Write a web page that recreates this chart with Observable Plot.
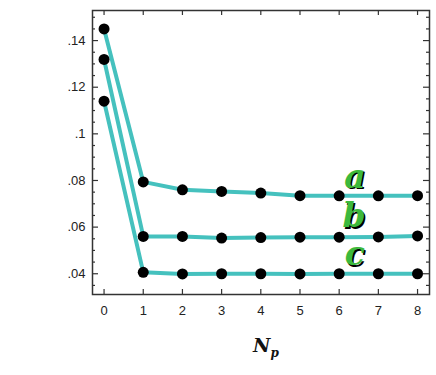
<!DOCTYPE html>
<html><head><meta charset="utf-8">
<script src="https://cdn.jsdelivr.net/npm/d3@7"></script>
<script src="https://cdn.jsdelivr.net/npm/@observablehq/plot@0.6"></script>
<style>body{margin:0;background:#fff}#chart svg{display:block}</style>
</head><body><div id="chart"></div>
<script>
// Data
const np = [0, 1, 2, 3, 4, 5, 6, 7, 8];
const seriesA = [0.1450, 0.0794, 0.0760, 0.0753, 0.0746, 0.0735, 0.0734, 0.0734, 0.0735];
const seriesB = [0.1319, 0.0560, 0.0560, 0.0553, 0.0555, 0.0557, 0.0557, 0.0558, 0.0562];
const seriesC = [0.1140, 0.0406, 0.0399, 0.0400, 0.0400, 0.0399, 0.0400, 0.0400, 0.0400];
const seriesNames = ["a", "b", "c"];
const labelX = [6.4, 6.38, 6.4];
const labelY = [0.0815, 0.0644, 0.0481];
const yTickValues = [0.04, 0.06, 0.08, 0.10, 0.12, 0.14];
const yTickLabels = [".04", ".06", ".08", ".1", ".12", ".14"];
const yMinorTicks = [0.035, 0.045, 0.05, 0.055, 0.065, 0.07, 0.075, 0.085, 0.09, 0.095,
                     0.105, 0.11, 0.115, 0.125, 0.13, 0.135, 0.145, 0.15];
const xTickLabels = ["0", "1", "2", "3", "4", "5", "6", "7", "8"];

const rows = [];
[seriesA, seriesB, seriesC].forEach((s, k) => s.forEach((v, i) => rows.push({series: seriesNames[k], np: np[i], v})));
const labels = seriesNames.map((n, i) => ({n, x: labelX[i], y: labelY[i]}));

const X0 = -0.295, X1 = 8.305, Y0 = 0.0311, Y1 = 0.1529;
const frameColor = "#333";
const lineColor = "#45c1be";
const green = "#3cb93c";

const chart = Plot.plot({
  width: 436, height: 375,
  marginLeft: 92, marginRight: 7, marginTop: 10, marginBottom: 81,
  x: {domain: [X0, X1]},
  y: {domain: [Y0, Y1]},
  style: {fontFamily: "'Liberation Sans', Arial, sans-serif", fontSize: "13px", color: "#222", background: "#fff"},
  marks: [
    Plot.axisX(np, {tickSize: 0, tickPadding: 11, label: null, fontSize: 13, tickFormat: d => xTickLabels[np.indexOf(d)]}),
    Plot.axisY(yTickValues, {tickSize: 0, tickPadding: 7, label: null, fontSize: 13, tickFormat: d => yTickLabels[yTickValues.indexOf(d)]}),
    // inward ticks
    Plot.ruleY(yTickValues, {y: d => d, x1: () => X0, x2: () => X0, insetRight: -6, stroke: frameColor, strokeWidth: 1.2}),
    Plot.ruleY(yMinorTicks, {y: d => d, x1: () => X0, x2: () => X0, insetRight: -3, stroke: frameColor, strokeWidth: 1.2}),
    Plot.ruleY(yTickValues, {y: d => d, x1: () => X1, x2: () => X1, insetLeft: -6, stroke: frameColor, strokeWidth: 1.2}),
    Plot.ruleY(yMinorTicks, {y: d => d, x1: () => X1, x2: () => X1, insetLeft: -3, stroke: frameColor, strokeWidth: 1.2}),
    Plot.ruleX(np, {x: d => d, y1: () => Y1, y2: () => Y1, insetBottom: -5, stroke: frameColor, strokeWidth: 1.2}),
    Plot.ruleX(np, {x: d => d, y1: () => Y0, y2: () => Y0, insetTop: -5, stroke: frameColor, strokeWidth: 1.2}),
    Plot.frame({stroke: frameColor, strokeWidth: 1.5}),
    Plot.line(rows, {x: "np", y: "v", z: "series", stroke: lineColor, strokeWidth: 4}),
    Plot.dot(rows, {x: "np", y: "v", r: 5.5, fill: "black", stroke: "none"}),
    Plot.text(labels, {x: "x", y: "y", text: "n", dx: 1.5, dy: 1.5, fill: "black", fontSize: 33, fontWeight: "bold", fontStyle: "italic", fontFamily: "'DejaVu Serif', serif"}),
    Plot.text(labels, {x: "x", y: "y", text: "n", fill: green, fontSize: 33, fontWeight: "bold", fontStyle: "italic", fontFamily: "'DejaVu Serif', serif"})
  ]
});
document.getElementById("chart").appendChild(chart);

// x-axis title N_p
const svg = d3.select(chart);
const t = svg.append("text")
  .attr("x", 253).attr("y", 352)
  .attr("text-anchor", "start")
  .attr("font-family", "'DejaVu Serif', serif")
  .attr("font-weight", "bold").attr("font-style", "italic")
  .attr("fill", "#111");
t.append("tspan").attr("font-size", 19).text("N");
t.append("tspan").attr("font-size", 12).attr("dy", 5).text("p");
</script>
</body></html>
